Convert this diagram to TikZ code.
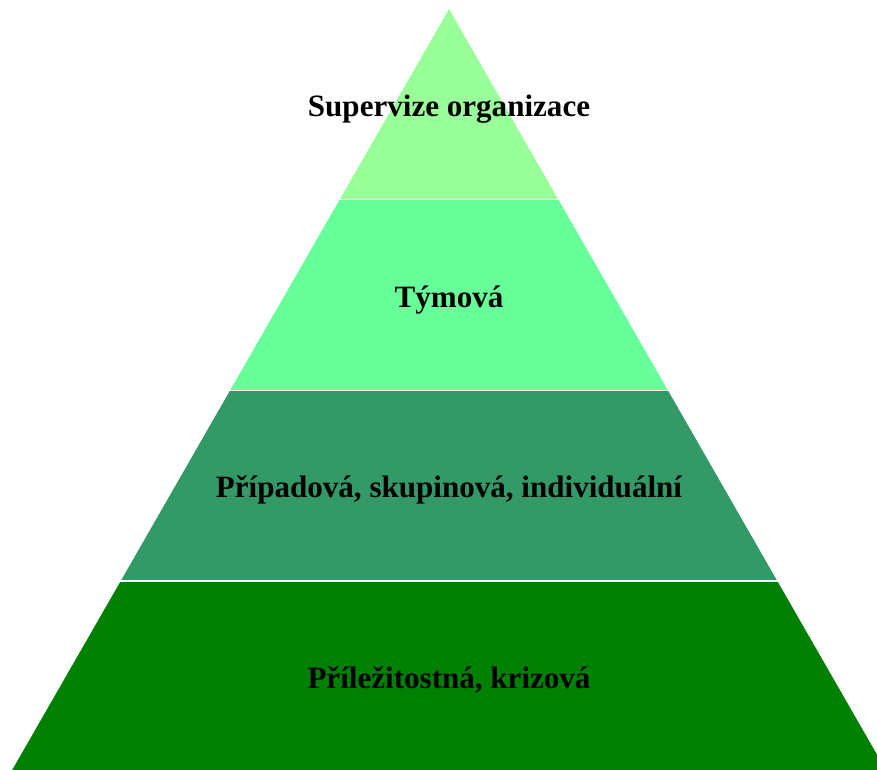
\documentclass[tikz,border=0pt]{standalone}
\usepackage{fontspec}
\setmainfont{Liberation Serif}
\usepackage{tikz}
\usetikzlibrary{positioning}
\definecolor{lvlA}{HTML}{99FF99}
\definecolor{lvlB}{HTML}{66FF99}
\definecolor{lvlC}{HTML}{339966}
\definecolor{lvlD}{HTML}{008000}
\tikzset{
  lvltext/.style={ anchor=base, inner sep=0pt, font=\fontsize{23.3}{28}\selectfont\bfseries }
}
\tikzset{
  gapline/.style={ white, line width=0.9pt }
}

\begin{document}
\begin{tikzpicture}[x=0.75pt, y=-0.75pt]
        \useasboundingbox (0,0) rectangle (877,769);
        \clip (0,0) rectangle (877,769);
        \fill[lvlA] (449,9) -- (558.3,199.5) -- (339.7,199.5) -- cycle;
        \fill[lvlB] (339.7,199.5) -- (558.3,199.5) -- (668,390.5) -- (230,390.5) -- cycle;
        \fill[lvlC] (230,390.5) -- (668,390.5) -- (777.3,581) -- (120.7,581) -- cycle;
        \fill[lvlD] (120.7,581) -- (777.3,581) -- (887,772) -- (11,772) -- cycle;
        \coordinate (g1l) at (330,199.5);
        \coordinate (g1r) at (570,199.5);
        \coordinate (g2l) at (220,390.5);
        \coordinate (g2r) at (680,390.5);
        \coordinate (g3l) at (110,581);
        \coordinate (g3r) at (790,581);
        \draw[gapline] (g1l) -- (g1r);
        \draw[gapline] (g2l) -- (g2r);
        \draw[gapline] (g3l) -- (g3r);
        \node[lvltext] (org) at (449,116) {Supervize organizace};
        \node[lvltext] (tym) at (449,307) {Týmová};
        \node[lvltext] (pri) at (449,497) {Případová, skupinová, individuální};
        \node[lvltext] (kri) at (449,688) {Příležitostná, krizová};
      \end{tikzpicture}
\end{document}
